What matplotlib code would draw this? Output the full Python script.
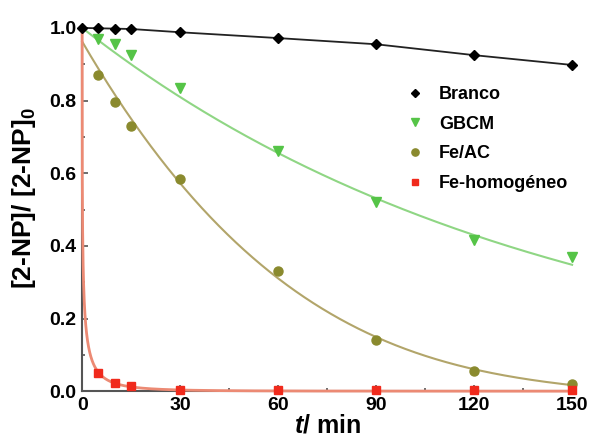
import matplotlib
matplotlib.use('Agg')
import matplotlib.pyplot as plt
import numpy as np
from matplotlib.ticker import MultipleLocator

plt.rcParams['font.family'] = ['Liberation Sans', 'DejaVu Sans']
plt.rcParams['font.weight'] = 'bold'
plt.rcParams['mathtext.fontset'] = 'custom'
plt.rcParams['mathtext.rm'] = 'Liberation Sans:bold'
plt.rcParams['mathtext.bf'] = 'Liberation Sans:bold'
plt.rcParams['mathtext.it'] = 'Liberation Sans:bold:italic'

# time (min)
t = np.array([0, 5, 10, 15, 30, 60, 90, 120, 150])

branco = np.array([1.0, 0.999, 0.998, 0.997, 0.988, 0.972, 0.955, 0.925, 0.898])
gbcm = np.array([1.0, 0.970, 0.955, 0.925, 0.835, 0.660, 0.522, 0.415, 0.370])
fe_ac = np.array([1.0, 0.870, 0.795, 0.730, 0.585, 0.330, 0.140, 0.055, 0.020])
fe_hom = np.array([1.0, 0.050, 0.022, 0.013, 0.003, 0.003, 0.002, 0.002, 0.002])

tt = np.linspace(0, 150, 3000)

# fitted curves (computed from the data above)
k_gbcm = -np.polyfit(t, np.log(gbcm), 1)[0]
fit_gbcm = np.exp(-k_gbcm * tt)
c_feac = np.polyfit(t, fe_ac, 3)
fit_feac = np.clip(np.polyval(c_feac, tt), 0, None)
# stretched exponential for the homogeneous run
p_hom, lnk_hom = np.polyfit(np.log(t[1:5]), np.log(-np.log(fe_hom[1:5])), 1)
fit_hom = np.exp(-np.exp(lnk_hom) * tt ** p_hom)

fig = plt.figure(figsize=(5.91, 4.43), dpi=100)
ax = fig.add_axes([0.139, 0.117, 0.829, 0.82])

ax.plot(tt, fit_gbcm, color='#8fd684', lw=1.5, clip_on=False, zorder=2)
ax.plot(tt, fit_feac, color='#b2a56a', lw=1.5, clip_on=False, zorder=2)
ax.plot(tt, fit_hom, color='#ec8a74', lw=2.0, clip_on=False, zorder=3)

ax.plot(t, branco, '-', color='#222222', lw=1.3, clip_on=False, zorder=4)
ax.plot(t, branco, 'D', color='black', ms=5.5, ls='none', clip_on=False, zorder=5, label='Branco')
ax.plot(t[1:], gbcm[1:], 'v', color='#55c447', ms=6.5, ls='none', clip_on=False, zorder=5, label='GBCM')
ax.plot(t[1:], fe_ac[1:], 'o', color='#8a8a2e', ms=6.5, ls='none', clip_on=False, zorder=5, label='Fe/AC')
ax.plot(t[1:], fe_hom[1:], 's', color='#f02a1c', ms=5.5, ls='none', clip_on=False, zorder=5, label='Fe-homogéneo')

ax.set_xlim(0, 150)
ax.set_ylim(0, 1.0)
ax.xaxis.set_major_locator(MultipleLocator(30))
ax.xaxis.set_minor_locator(MultipleLocator(15))
ax.yaxis.set_major_locator(MultipleLocator(0.2))
ax.yaxis.set_minor_locator(MultipleLocator(0.1))
ax.yaxis.set_major_formatter(plt.FuncFormatter(lambda v, p: '{:.1f}'.format(v)))

for s in ['top', 'right']:
    ax.spines[s].set_visible(False)
for s in ['left', 'bottom']:
    ax.spines[s].set_linewidth(1.5)
    ax.spines[s].set_color('#555555')

ax.tick_params(which='both', direction='in', labelsize=14, width=1.2, color='#555555')
ax.tick_params(which='major', length=4, pad=4)
ax.tick_params(which='minor', length=2)
for lab in ax.get_xticklabels() + ax.get_yticklabels():
    lab.set_fontweight('bold')

ax.set_xlabel(r'$t$/ min', fontsize=18, fontweight='bold', labelpad=0)
ax.set_ylabel(r'[2-NP]/ [2-NP]$_{0}$', fontsize=19, fontweight='bold', labelpad=4)
ax.yaxis.set_label_coords(-0.09, 0.53)

leg = ax.legend(loc='upper left', bbox_to_anchor=(0.625, 0.885), frameon=False,
                fontsize=13, handletextpad=0.7, labelspacing=0.7, markerscale=0.8,
                handlelength=1.2)
for txt in leg.get_texts():
    txt.set_fontweight('bold')

fig.savefig('out.png', dpi=100)
